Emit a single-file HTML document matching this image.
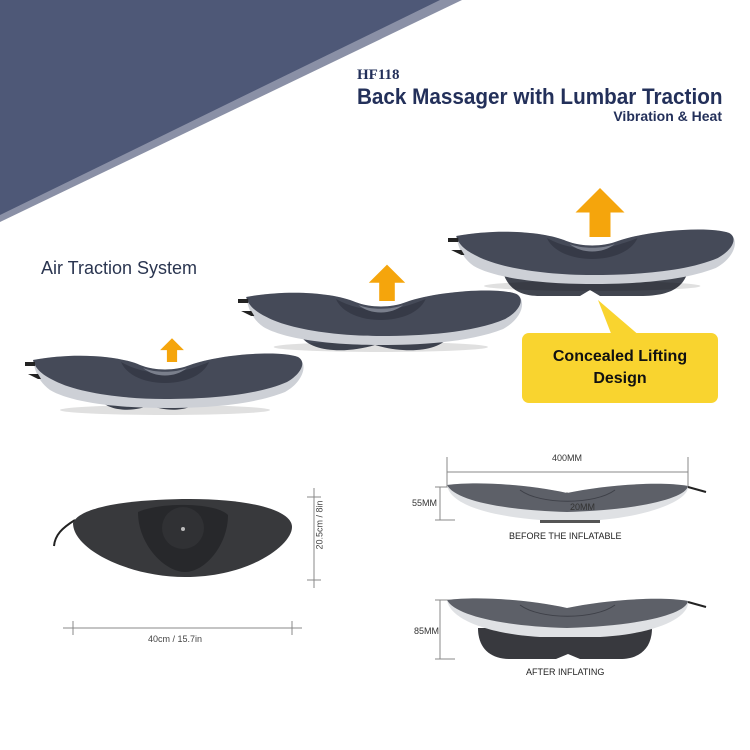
<!DOCTYPE html>
<html><head><meta charset="utf-8"><style>
body{margin:0;width:750px;height:750px;background:#fff;overflow:hidden;position:relative;font-family:"Liberation Sans",sans-serif}
.t{position:absolute;white-space:nowrap}
</style></head><body>
<svg width="750" height="750" style="position:absolute;left:0;top:0">
<defs>
<g id="m">
<ellipse cx="140" cy="58" rx="105" ry="5" fill="#000" opacity="0.12"/>
<path d="M8,8 C50,0 95,4 115,13 C130,19 150,19 165,13 C195,2 255,-2 273,5 C284,12 278,30 260,40 C225,54 175,56 140,56 C90,56 45,50 25,38 C14,30 10,20 8,8Z" fill="#cdd0d6"/>
<path d="M8,8 C50,0 95,4 115,13 C130,19 150,19 165,13 C195,2 255,-2 273,5 C282,10 276,22 262,30 C230,44 180,47 140,47 C95,47 50,40 28,28 C16,22 10,16 8,8 Z" fill="#454a58"/>
<path d="M96,10 C108,38 172,38 184,10 C165,18 150,21 140,21 C125,21 110,18 96,10Z" fill="#363a47"/>
<path d="M118,16 C130,26 150,26 162,16 C150,21 130,21 118,16Z" fill="#7a7f8c"/>
<path d="M0,10 h10 v4 h-10z M3,22 h10 l3,5 h-3 z" fill="#222"/>
</g>
<g id="a"><path d="M-6,0 h12 v-14 h8 l-14,-14 l-14,14 h8z" fill="#f5a50c"/></g>
</defs>
<polygon points="0,0 462,0 0,222" fill="#8a90a6"/>
<polygon points="0,0 440,0 0,215" fill="#4e5877"/>
<path d="M100,400 C110,412 135,412 150,405 C165,412 190,412 200,400Z" fill="#454a58"/>
<use href="#m" transform="translate(25,352)"/>
<path d="M300,335 C310,352 345,354 375,345 C405,354 440,352 450,335Z" fill="#454a58"/>
<use href="#m" transform="translate(238,289) scale(1.02,1.0)"/>
<path d="M500,255 L690,255 C690,285 675,296 640,296 L600,296 L590,290 L580,296 L540,296 C515,296 502,285 500,255Z" fill="#41454f"/>
<use href="#m" transform="translate(448,228) scale(1.03,1.0)"/>
<use href="#a" transform="translate(172,362) scale(0.85)"/>
<use href="#a" transform="translate(387,301) scale(1.3)"/>
<use href="#a" transform="translate(600,237) scale(1.75)"/>
<polygon points="598,300 612,336 640,336" fill="#f9d42f"/>
<rect x="522" y="333" width="196" height="70" rx="7" fill="#f9d42f"/>
<path d="M75,520 C62,528 55,535 54,546" stroke="#222" stroke-width="2" fill="none"/>
<path d="M73,523 C80,505 140,499 190,499 C250,499 292,510 292,527 C292,545 250,577 185,577 C130,577 73,550 73,523Z" fill="#38393c"/>
<path d="M138,512 C160,502 215,502 228,515 C228,545 205,572 185,572 C165,572 138,545 138,512Z" fill="#27282b"/>
<circle cx="183" cy="528" r="21" fill="#303134"/>
<circle cx="183" cy="529" r="2" fill="#bbb"/>
<g stroke="#888" stroke-width="1">
<line x1="63" y1="628" x2="302" y2="628"/><line x1="73" y1="621" x2="73" y2="635"/><line x1="292" y1="621" x2="292" y2="635"/>
<line x1="314" y1="488" x2="314" y2="588"/><line x1="307" y1="497" x2="321" y2="497"/><line x1="307" y1="580" x2="321" y2="580"/>
<line x1="447" y1="472" x2="688" y2="472"/><line x1="447" y1="457" x2="447" y2="487"/><line x1="688" y1="457" x2="688" y2="487"/>
<line x1="435" y1="487" x2="455" y2="487"/><line x1="435" y1="520" x2="455" y2="520"/><line x1="440" y1="487" x2="440" y2="520"/>
<line x1="435" y1="600" x2="455" y2="600"/><line x1="435" y1="659" x2="455" y2="659"/><line x1="440" y1="600" x2="440" y2="659"/>
<line x1="567" y1="492" x2="567" y2="523"/>
</g>
<path d="M540,519 h60 v4 h-60z" fill="#555"/>
<path d="M447,485 C480,481 530,485 567,493 C605,485 660,481 688,486 C690,500 650,516 600,520 L540,520 C490,516 450,505 447,485Z" fill="#dfe1e4"/>
<path d="M447,485 C480,481 530,485 567,493 C605,485 660,481 688,486 C686,498 640,510 567,512 C500,510 455,500 447,485Z" fill="#5d6068"/>
<path d="M520,490 C540,505 595,505 615,490" stroke="#3e4048" fill="none"/>
<path d="M688,487 l18,5" stroke="#222" stroke-width="2"/>
<path d="M478,628 L652,628 C652,648 640,659 620,659 L580,659 L568,654 L556,659 L510,659 C490,659 478,648 478,628Z" fill="#38393e"/>
<path d="M447,600 C480,596 530,600 567,608 C605,600 660,596 688,601 C690,618 655,634 600,637 L540,637 C490,634 450,620 447,600Z" fill="#dfe1e4"/>
<path d="M447,600 C480,596 530,600 567,608 C605,600 660,596 688,601 C686,614 640,626 567,628 C500,626 455,615 447,600Z" fill="#5d6068"/>
<path d="M520,605 C540,620 595,620 615,605" stroke="#3e4048" fill="none"/>
<path d="M688,602 l18,5" stroke="#222" stroke-width="2"/>
</svg>
<div class="t" style="left:357px;top:67px;font:bold 15px 'Liberation Serif',serif;color:#23305a">HF118</div>
<div class="t" style="left:357px;top:84px;font:bold 22px 'Liberation Sans',sans-serif;color:#23305a;transform:scaleX(0.94);transform-origin:left">Back Massager with Lumbar Traction</div>
<div class="t" style="right:28px;top:108px;font:bold 14px 'Liberation Sans',sans-serif;color:#23305a">Vibration &amp; Heat</div>
<div class="t" style="left:41px;top:258px;font:18px 'Liberation Sans',sans-serif;color:#2a3550">Air Traction System</div>
<div class="t" style="left:522px;top:346px;width:196px;text-align:center;white-space:normal;font:bold 16px/22px 'Liberation Sans',sans-serif;color:#111">Concealed Lifting<br>Design</div>
<div class="t" style="left:148px;top:634px;font:9px 'Liberation Sans',sans-serif;color:#444">40cm / 15.7in</div>
<div class="t" style="left:295px;top:520px;font:9px 'Liberation Sans',sans-serif;color:#444;transform:rotate(-90deg);transform-origin:center">20.5cm / 8in</div>
<div class="t" style="left:552px;top:453px;font:9px 'Liberation Sans',sans-serif;color:#333">400MM</div>
<div class="t" style="left:412px;top:498px;font:9px 'Liberation Sans',sans-serif;color:#333">55MM</div>
<div class="t" style="left:570px;top:502px;font:9px 'Liberation Sans',sans-serif;color:#333">20MM</div>
<div class="t" style="left:509px;top:531px;font:9px 'Liberation Sans',sans-serif;color:#222">BEFORE THE INFLATABLE</div>
<div class="t" style="left:414px;top:626px;font:9px 'Liberation Sans',sans-serif;color:#333">85MM</div>
<div class="t" style="left:526px;top:667px;font:9px 'Liberation Sans',sans-serif;color:#222">AFTER INFLATING</div>
</body></html>
